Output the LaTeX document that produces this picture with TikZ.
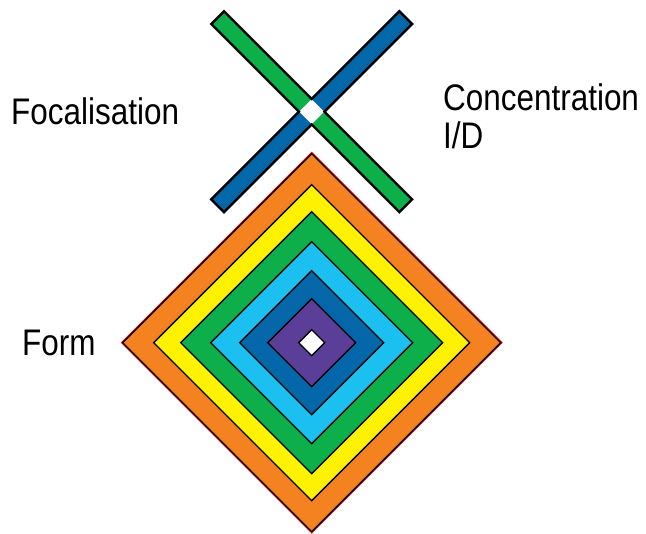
\documentclass[tikz,border=0pt]{standalone}
\usepackage{fontspec}
\setmainfont{Liberation Sans}[FakeStretch=0.85]
\usepackage{tikz}
\definecolor{formorange}{HTML}{F48221}
\definecolor{formyellow}{HTML}{FFF200}
\definecolor{formgreen}{HTML}{0DAF4B}
\definecolor{formcyan}{HTML}{1BC0F0}
\definecolor{formblue}{HTML}{0467A9}
\definecolor{formpurple}{HTML}{5B3E98}

\begin{document}
\begin{tikzpicture}[x=1pt, y=-1pt, font=\fontsize{37}{38}\selectfont,
    caption/.style={anchor=base west, inner sep=0pt},
    layer/.style={draw=black, line width=1.4pt, line join=miter}]
    \useasboundingbox (0,0) rectangle (646,534);
    \coordinate (form) at (311.7,342.7);
    \coordinate (cross) at (311.7,111.7);
    % nested diamonds
    \fill[red] ([xshift=-191pt]form) -- ([yshift=191pt]form) -- ([xshift=191pt]form) -- ([yshift=-191pt]form) -- cycle;
    \foreach \r/\c in {189/formorange, 158/formyellow, 131/formgreen, 101/formcyan, 72/formblue, 44/formpurple, 13/white}
        \filldraw[layer, fill=\c] ([xshift=-\r pt]form) -- ([yshift=\r pt]form) -- ([xshift=\r pt]form) -- ([yshift=-\r pt]form) -- cycle;
    % the cross
    \begin{scope}[shift={(cross)}, rotate=45]
        \fill[formblue]  (9,-9) rectangle (133,9);
        \fill[formblue]  (-9,-9) rectangle (-133,9);
        \fill[formgreen] (-9,9) rectangle (9,133);
        \fill[formgreen] (-9,-9) rectangle (9,-133);
        \draw[line width=2.4pt, line join=miter] (133,-9) -- (133,9) -- (9,9) -- (9,133) -- (-9,133) -- (-9,9) -- (-133,9) -- (-133,-9) -- (-9,-9) -- (-9,-133) -- (9,-133) -- (9,-9) -- cycle;
    \end{scope}
    % labels
    \node[caption] (foc) at (11,124.3) {Focalisation};
    \node[caption] (conc) at (443,111) {Concentration};
    \node[caption] (id) at (443,149) {I/D};
    \node[caption] (frm) at (22,356) {Form};
\end{tikzpicture}
\end{document}
